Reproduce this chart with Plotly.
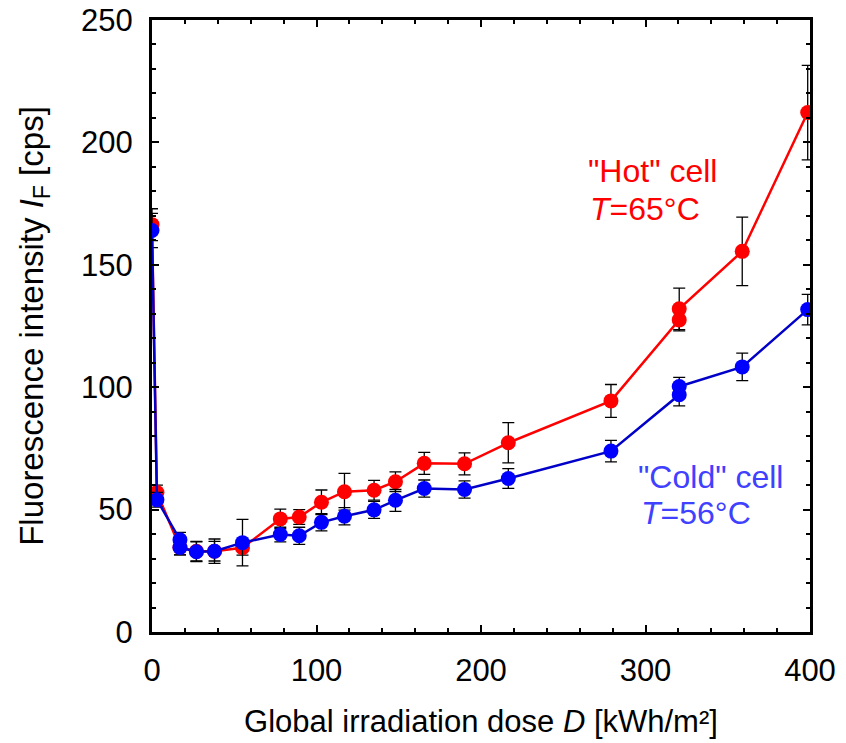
import plotly.graph_objects as go

# Data
hot_dose = [0, 3, 17, 27, 38, 55, 78, 89.5, 103, 117, 135, 148, 165.5, 190, 216.6, 279, 320.5, 320.5, 358.8, 398.6]
hot_int = [166.4, 57, 34.5, 33, 33, 34.4, 46.2, 47.0, 53.0, 57.3, 57.9, 61.4, 68.9, 68.7, 77.3, 94.4, 127.5, 132, 155.5, 212.2]
hot_err = [6.5, 3, 3, 4, 5, 3, 4, 3, 5, 7.5, 4, 4, 4.5, 4.5, 8.2, 6.7, 4.5, 8.5, 14, 19.3]

cold_dose = [0, 3, 17, 17, 27, 38, 55, 78, 89.5, 103, 117, 135, 148, 165.5, 190, 216.6, 279, 320.5, 320.5, 358.8, 398.6]
cold_int = [164, 54, 37.7, 34.5, 32.8, 33, 36.5, 39.8, 39.3, 44.8, 47.3, 49.9, 53.8, 58.6, 58.2, 62.7, 73.9, 96.9, 100.3, 108.3, 131.7]
cold_err = [7, 3, 3, 3, 4, 4, 9.5, 3, 3.5, 3.5, 3.5, 3.5, 4.5, 3.5, 3.5, 4, 4.4, 4.5, 3.7, 5.6, 6.2]

x_ticks = [0, 100, 200, 300, 400]
y_ticks = [0, 50, 100, 150, 200, 250]

FONT = "Liberation Sans, Arial, sans-serif"
TICK_SIZE = 31
ANN_SIZE = 32

fig = go.Figure()
fig.add_trace(go.Scatter(
    x=hot_dose, y=hot_int, mode="lines+markers",
    line=dict(color="#ff0000", width=2.5),
    marker=dict(color="#ff0000", size=15),
    error_y=dict(type="data", array=hot_err, color="black", thickness=1.3, width=6),
    showlegend=False,
))
fig.add_trace(go.Scatter(
    x=cold_dose, y=cold_int, mode="lines+markers",
    line=dict(color="#0000c8", width=2.5),
    marker=dict(color="#0000ff", size=15),
    error_y=dict(type="data", array=cold_err, color="black", thickness=1.3, width=6),
    showlegend=False,
))

fig.add_annotation(x=264, y=188.5, xref="x", yref="y", xanchor="left", yanchor="middle",
                   text='"Hot" cell', showarrow=False, font=dict(family=FONT, size=ANN_SIZE, color="#ff0000"))
fig.add_annotation(x=265, y=173, xref="x", yref="y", xanchor="left", yanchor="middle",
                   text='<i>T</i>=65°C', showarrow=False, font=dict(family=FONT, size=ANN_SIZE, color="#ff0000"))
fig.add_annotation(x=294, y=63.5, xref="x", yref="y", xanchor="left", yanchor="middle",
                   text='"Cold" cell', showarrow=False, font=dict(family=FONT, size=ANN_SIZE, color="#4040ff"))
fig.add_annotation(x=296, y=48.5, xref="x", yref="y", xanchor="left", yanchor="middle",
                   text='<i>T</i>=56°C', showarrow=False, font=dict(family=FONT, size=ANN_SIZE, color="#4040ff"))

fig.update_layout(
    width=846, height=743,
    margin=dict(l=152, r=36, t=20, b=111),
    plot_bgcolor="white", paper_bgcolor="white",
    font=dict(family=FONT, size=TICK_SIZE, color="black"),
)
fig.update_xaxes(
    range=[0, 400], tickvals=x_ticks, ticktext=[str(v) for v in x_ticks],
    showgrid=False, zeroline=False, automargin=False,
    showline=True, linecolor="black", linewidth=3, mirror="allticks",
    ticks="inside", ticklen=7, tickwidth=2, tickcolor="black",
    minor=dict(dtick=20, ticks="inside", ticklen=4, tickwidth=2, tickcolor="black"),
    ticklabelstandoff=9,
    tickfont=dict(family=FONT, size=TICK_SIZE),
    title=dict(text="Global irradiation dose <i>D</i> [kWh/m²]", font=dict(family=FONT, size=31), standoff=24),
)
fig.update_yaxes(
    range=[0, 250], tickvals=y_ticks, ticktext=[str(v) for v in y_ticks],
    showgrid=False, zeroline=False, automargin=False,
    showline=True, linecolor="black", linewidth=3, mirror="allticks",
    ticks="inside", ticklen=7, tickwidth=2, tickcolor="black",
    minor=dict(dtick=10, ticks="inside", ticklen=4, tickwidth=2, tickcolor="black"),
    ticklabelstandoff=10,
    tickfont=dict(family=FONT, size=TICK_SIZE),
    title=dict(text="Fluorescence intensity <i>I</i><sub>F</sub> [cps]", font=dict(family=FONT, size=33), standoff=28),
)

fig.write_html("out.html")
